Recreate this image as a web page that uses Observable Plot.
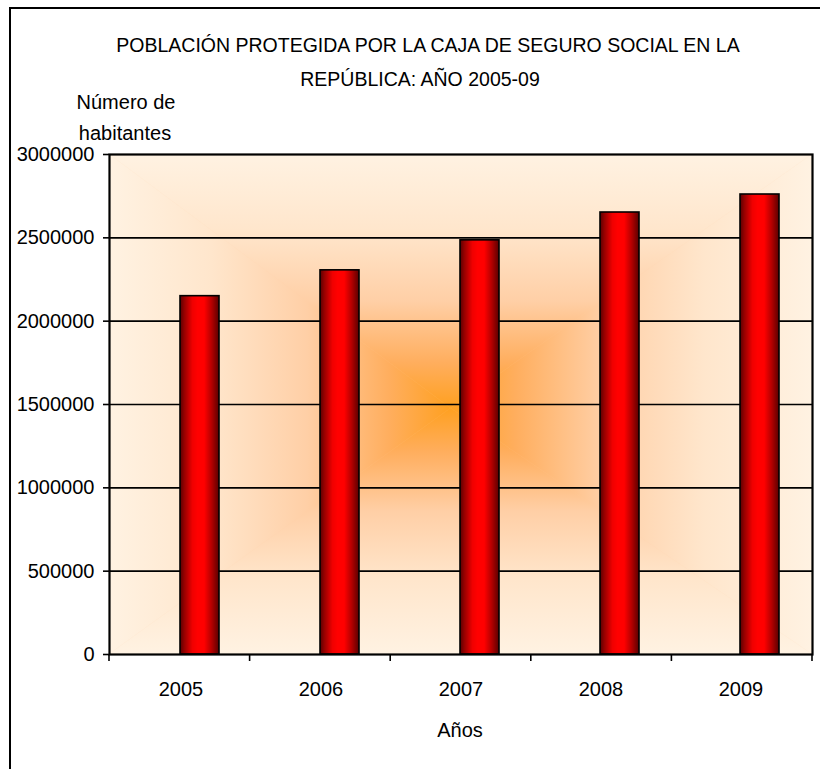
<!DOCTYPE html>
<html><head><meta charset="utf-8">
<script src="https://cdn.jsdelivr.net/npm/d3@7"></script>
<script src="https://cdn.jsdelivr.net/npm/@observablehq/plot@0.6"></script>
<style>
body{margin:0;background:#fff;}
#wrap{position:relative;width:820px;height:769px;overflow:hidden;font-family:"Liberation Sans",Arial,sans-serif;color:#000;background:#fff;}
#frame{position:absolute;left:9px;top:7px;width:900px;height:900px;border-left:2px solid #000;border-top:2px solid #000;}
.t{position:absolute;font-size:20px;line-height:20px;white-space:nowrap;transform:translateX(-50%);}
#chart{position:absolute;left:0;top:0;}
</style></head><body>
<div id="wrap">
<div id="frame"></div>
<div id="chart"></div>
<div class="t" id="title1" style="left:428px;top:35px;font-size:19.5px;">POBLACIÓN PROTEGIDA POR LA CAJA DE SEGURO SOCIAL EN LA</div>
<div class="t" id="title2" style="left:420px;top:69px;font-size:19.5px;">REPÚBLICA: AÑO 2005-09</div>
<div class="t" id="ylab1" style="left:126px;top:92px;">Número de</div>
<div class="t" id="ylab2" style="left:125px;top:123px;">habitantes</div>
<div class="t" id="xlab" style="left:460px;top:720px;">Años</div>
</div>
<script>
const years = ["2005", "2006", "2007", "2008", "2009"];
const population = [2150000, 2305000, 2485000, 2652000, 2760000];
const yTicks = [0, 500000, 1000000, 1500000, 2000000, 2500000, 3000000];

const data = years.map((y, i) => ({year: y, value: population[i]}));

const W = 820, H = 769, mL = 109, mR = 8, mT = 154, mB = 115;

function background(index, scales, values, dims) {
  const l = dims.marginLeft, t = dims.marginTop;
  const r = dims.width - dims.marginRight, b = dims.height - dims.marginBottom;
  const cx = (l + r) / 2 - 10, cy = (t + b) / 2 + 4;
  const g = d3.create("svg:g");
  const defs = g.append("defs");
  const stops = [[0, "#FFA020"], [0.18, "#FFAE5E"], [0.42, "#FFCFA6"], [0.7, "#FFE6CC"], [1, "#FFF2E2"]];
  const dirs = [
    ["bgT", cx, t, [[l, t], [r, t], [cx, cy]]],
    ["bgB", cx, b, [[l, b], [r, b], [cx, cy]]],
    ["bgL", l, cy, [[l, t], [l, b], [cx, cy]]],
    ["bgR", r, cy, [[r, t], [r, b], [cx, cy]]]
  ];
  const bg = defs.append("linearGradient").attr("id", "barGrad").attr("x1", 0).attr("x2", 1).attr("y1", 0).attr("y2", 0);
  [[0, "#5A0000"], [0.12, "#9A0000"], [0.32, "#F00000"], [0.45, "#FF0000"], [0.62, "#FF0000"], [0.82, "#B00000"], [1, "#5A0000"]]
    .forEach(([o, c]) => bg.append("stop").attr("offset", o).attr("stop-color", c));
  g.append("rect").attr("x", l).attr("y", t).attr("width", r - l).attr("height", b - t).attr("fill", "#FFCFA6");
  for (const [id, x2, y2, pts] of dirs) {
    const lg = defs.append("linearGradient").attr("id", id).attr("gradientUnits", "userSpaceOnUse")
      .attr("x1", cx).attr("y1", cy).attr("x2", x2).attr("y2", y2);
    stops.forEach(([o, c]) => lg.append("stop").attr("offset", o).attr("stop-color", c));
    g.append("polygon").attr("points", pts.map(p => p.join(",")).join(" ")).attr("fill", `url(#${id})`)
      .attr("stroke", `url(#${id})`).attr("stroke-width", 0.5);
  }
  return g.node();
}

function boundaryTicks(index, scales, values, dims) {
  const l = dims.marginLeft, r = dims.width - dims.marginRight, b = dims.height - dims.marginBottom;
  const step = (r - l) / years.length;
  const g = d3.create("svg:g");
  for (let i = 0; i <= years.length; i++) {
    g.append("line").attr("x1", l + i * step).attr("x2", l + i * step)
      .attr("y1", b).attr("y2", b + 7).attr("stroke", "#000").attr("stroke-width", 1.6);
  }
  return g.node();
}

const chart = Plot.plot({
  width: W, height: H,
  marginLeft: mL, marginRight: mR, marginTop: mT, marginBottom: mB,
  style: {background: "transparent", fontFamily: "'Liberation Sans', Arial, sans-serif", fontSize: "20px", color: "#000", overflow: "visible"},
  x: {domain: years, paddingInner: 0.72, paddingOuter: 0.36, label: null},
  y: {domain: [0, 3000000], label: null},
  marks: [
    background,
    Plot.ruleY(yTicks.filter(d => d > 0 && d < 3000000), {stroke: "#000", strokeWidth: 1.6}),
    Plot.barY(data, {x: "year", y: "value", dx: 19, fill: "url(#barGrad)", stroke: "#000", strokeWidth: 1.6}),
    Plot.frame({stroke: "#000", strokeWidth: 2.2}),
    Plot.axisY({ticks: yTicks, tickSize: 6, tickPadding: 9, tickFormat: d => String(d), fontSize: 20, label: null, strokeWidth: 1.6, fill: "#000"}),
    Plot.axisX({tickSize: 0, tickPadding: 27, fontSize: 20, label: null, fill: "#000"}),
    boundaryTicks
  ]
});
document.getElementById("chart").appendChild(chart);
</script>
</body></html>
